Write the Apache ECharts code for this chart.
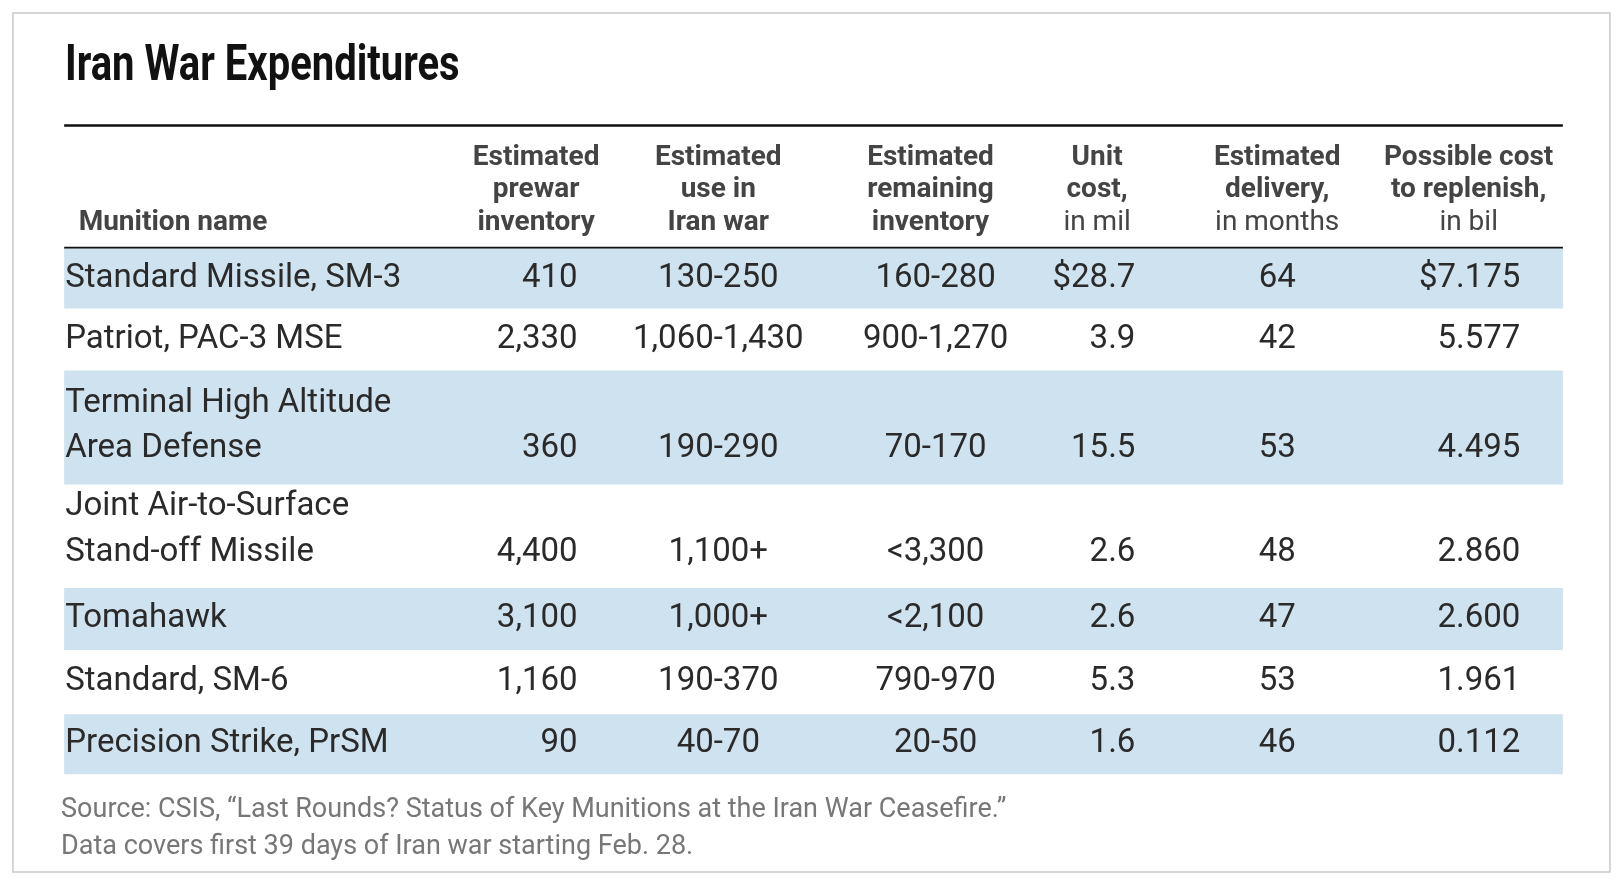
<!DOCTYPE html>
<html>
<head>
    <meta http-equiv="Content-Type" content="text/html; charset=utf-8" />
    <title>Iran War Expenditures</title>
    <style type="text/css">
        html, body { margin: 0; padding: 0; height: 100%; background: #fff; }
        #container { width: 1622px; height: 886px; }
    </style>
    <script src="https://cdn.jsdelivr.net/npm/echarts@6/dist/echarts.min.js"></script>
</head>
<body>
    <div id="container"></div>
    <script type="text/javascript">
        var chart = echarts.init(document.getElementById('container'));
        var S = 1.035; // 参考图坐标缩放

        // 表格数据
        var rows = [
            { name: ['Standard Missile, SM-3'], v: ['410', '130-250', '160-280', '$28.7', '64', '$7.175'], top: 240, bottom: 298 },
            { name: ['Patriot, PAC-3 MSE'], v: ['2,330', '1,060-1,430', '900-1,270', '3.9', '42', '5.577'], top: 298, bottom: 358 },
            { name: ['Terminal High Altitude', 'Area Defense'], v: ['360', '190-290', '70-170', '15.5', '53', '4.495'], top: 358, bottom: 468 },
            { name: ['Joint Air-to-Surface', 'Stand-off Missile'], v: ['4,400', '1,100+', '<3,300', '2.6', '48', '2.860'], top: 468, bottom: 568 },
            { name: ['Tomahawk'], v: ['3,100', '1,000+', '<2,100', '2.6', '47', '2.600'], top: 568, bottom: 628 },
            { name: ['Standard, SM-6'], v: ['1,160', '190-370', '790-970', '5.3', '53', '1.961'], top: 628, bottom: 690 },
            { name: ['Precision Strike, PrSM'], v: ['90', '40-70', '20-50', '1.6', '46', '0.112'], top: 690, bottom: 748 }
        ];
        // 列位置
        var cols = [
            { x: 558, align: 'right', hx: 518, head: [['Estimated', 1], ['prewar', 1], ['inventory', 1]] },
            { x: 694, align: 'center', hx: 694, head: [['Estimated', 1], ['use in', 1], ['Iran war', 1]] },
            { x: 904, align: 'center', hx: 899, head: [['Estimated', 1], ['remaining', 1], ['inventory', 1]] },
            { x: 1097, align: 'right', hx: 1060, head: [['Unit', 1], ['cost,', 1], ['in mil', 0]] },
            { x: 1234, align: 'center', hx: 1234, head: [['Estimated', 1], ['delivery,', 1], ['in months', 0]] },
            { x: 1469, align: 'right', hx: 1419, head: [['Possible cost', 1], ['to replenish,', 1], ['in bil', 0]] }
        ];
        var headY = [153, 184, 215];

        var bands = [];
        var cells = [];
        rows.forEach(function (r, i) {
            bands.push([r.top * S, r.bottom * S, i % 2 === 0 ? 1 : 0]);
            var lastY = r.name.length === 1 ? (r.top + r.bottom) / 2 : r.bottom - 34;
            r.name.forEach(function (t, k) {
                cells.push([63 * S, (lastY - (r.name.length - 1 - k) * 44) * S, t, 'left', 0]);
            });
            r.v.forEach(function (t, k) {
                cells.push([cols[k].x * S, lastY * S, t, cols[k].align, 0]);
            });
        });
        cells.push([76 * S, headY[2] * S, 'Munition name', 'left', 1]);
        cols.forEach(function (c) {
            c.head.forEach(function (h, k) {
                cells.push([c.hx * S, headY[k] * S, h[0], 'center', h[1] ? 1 : 2]);
            });
        });

        var option = {
            animation: false,
            grid: { left: 0, right: 0, top: 0, bottom: 0 },
            xAxis: { type: 'value', min: 0, max: 1622, show: false },
            yAxis: { type: 'value', min: 0, max: 886, inverse: true, show: false },
            graphic: [
                { type: 'rect', shape: { x: 12.5 * S, y: 12.5 * S, width: 1543 * S, height: 830 * S }, style: { fill: 'none', stroke: '#c8c8c8', lineWidth: 1.5 } },
                { type: 'text', x: 65, y: 42, scaleX: 0.8, style: { text: 'Iran War Expenditures', font: 'bold 50px Roboto, sans-serif', fill: '#111' } },
                { type: 'rect', shape: { x: 62 * S, y: 120 * S, width: 1448 * S, height: 2.5 }, style: { fill: '#111' } },
                { type: 'rect', shape: { x: 62 * S, y: 238.5 * S, width: 1448 * S, height: 2.5 }, style: { fill: '#111' } },
                { type: 'text', x: 59 * S, y: 765 * S, style: { text: 'Source: CSIS, \u201cLast Rounds? Status of Key Munitions at the Iran War Ceasefire.\u201d\nData covers first 39 days of Iran war starting Feb. 28.', font: '27px Roboto, sans-serif', fill: '#777', lineHeight: 37 } }
            ],
            series: [
                {
                    type: 'custom',
                    data: bands,
                    renderItem: function (params, api) {
                        if (!api.value(2)) return null;
                        var a = api.coord([62 * S, api.value(0)]);
                        var b = api.coord([1510 * S, api.value(1)]);
                        return { type: 'rect', shape: { x: a[0], y: a[1], width: b[0] - a[0], height: b[1] - a[1] }, style: { fill: '#cee2ef' } };
                    },
                    z: 1
                },
                {
                    type: 'custom',
                    data: cells,
                    renderItem: function (params, api) {
                        var p = api.coord([api.value(0), api.value(1)]);
                        var kind = api.value(4);
                        var font = kind === 0 ? '33px Roboto, sans-serif' : (kind === 1 ? 'bold 28px Roboto, sans-serif' : '28px Roboto, sans-serif');
                        return {
                            type: 'text',
                            x: p[0], y: p[1],
                            style: { text: cells[params.dataIndex][2], font: font, fill: kind === 0 ? '#2a2a2a' : '#444', align: cells[params.dataIndex][3], verticalAlign: 'middle' }
                        };
                    },
                    z: 2
                }
            ]
        };
        chart.setOption(option);
    </script>
</body>
</html>
